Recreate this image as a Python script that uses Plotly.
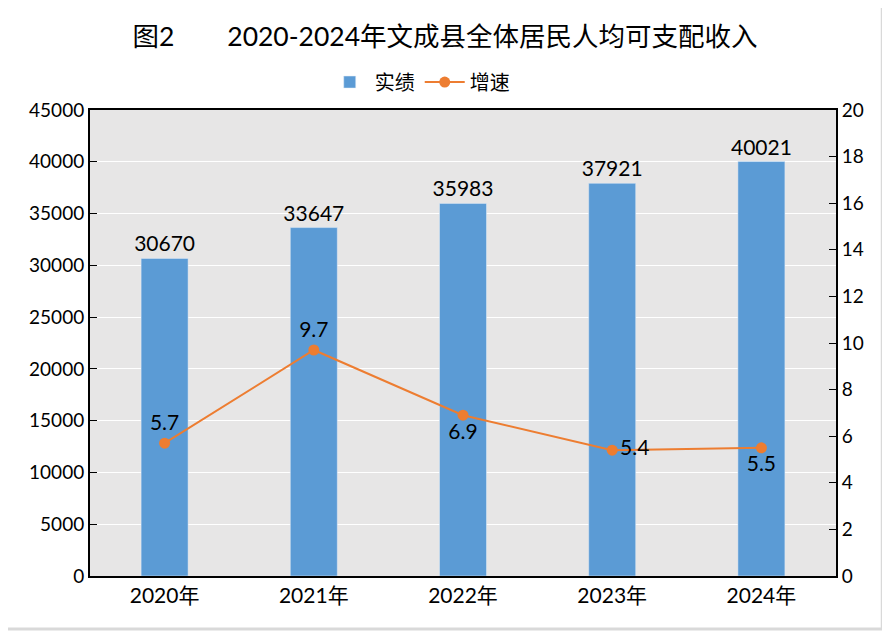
import plotly.graph_objects as go

years = ["2020年", "2021年", "2022年", "2023年", "2024年"]
income = [30670, 33647, 35983, 37921, 40021]
growth = [5.7, 9.7, 6.9, 5.4, 5.5]
growth_pos = ["top center", "top center", "bottom center", "middle right", "bottom center"]

FONT = "Lato, Noto Sans CJK SC, sans-serif"

fig = go.Figure()
fig.add_trace(go.Bar(
    x=years, y=income, name="实绩",
    marker_color="#5b9bd5",
    text=[str(v) for v in income], textposition="outside",
    textfont=dict(size=21, color="#000000"),
    constraintext="none", cliponaxis=False,
))
fig.add_trace(go.Scatter(
    x=years, y=growth, name="增速", yaxis="y2",
    mode="lines+markers+text",
    line=dict(color="#ed7d31", width=2),
    marker=dict(color="#ed7d31", size=11),
    text=[f"{v:.1f}" for v in growth], textposition=growth_pos,
    textfont=dict(size=21, color="#000000"),
))

# 外框（右、下）
fig.add_shape(type="line", xref="paper", yref="paper",
              x0=1.062, x1=1.062, y0=1.22, y1=-0.114,
              line=dict(color="#d9d9d9", width=3))
fig.add_shape(type="line", xref="paper", yref="paper",
              x0=-0.11, x1=1.062, y0=-0.114, y1=-0.114,
              line=dict(color="#d9d9d9", width=3))

fig.update_layout(
    width=890, height=632,
    margin=dict(l=82, r=62, t=102, b=64, autoexpand=False),
    paper_bgcolor="white", plot_bgcolor="#e7e6e6",
    font=dict(family=FONT, size=19, color="#000000"),
    title=dict(text="图2　　2020-2024年文成县全体居民人均可支配收入",
               x=0.491, xanchor="center", y=0.954, yanchor="middle",
               font=dict(size=26.5), automargin=False),
    legend=dict(orientation="h", x=0.442, xanchor="center", y=1.06, yanchor="middle",
                font=dict(size=20), traceorder="normal", itemwidth=40),
    bargap=0.685,
    showlegend=True,
    xaxis=dict(showline=True, linecolor="black", linewidth=2, mirror=True,
               tickfont=dict(size=21), ticks="", automargin=False),
    yaxis=dict(range=[0, 45000], dtick=5000, tickformat="d", showline=True,
               linecolor="black", linewidth=2,
               gridcolor="white", gridwidth=1, ticks="inside", ticklen=7, tickcolor="black",
               tickfont=dict(size=19), zeroline=False, automargin=False),
    yaxis2=dict(range=[0, 20], dtick=2, overlaying="y", side="right",
                showline=True, linecolor="black", linewidth=2,
                showgrid=False, ticks="inside", ticklen=7, tickcolor="black",
                tickfont=dict(size=19), zeroline=False, automargin=False),
)

fig.write_html("out.html")
